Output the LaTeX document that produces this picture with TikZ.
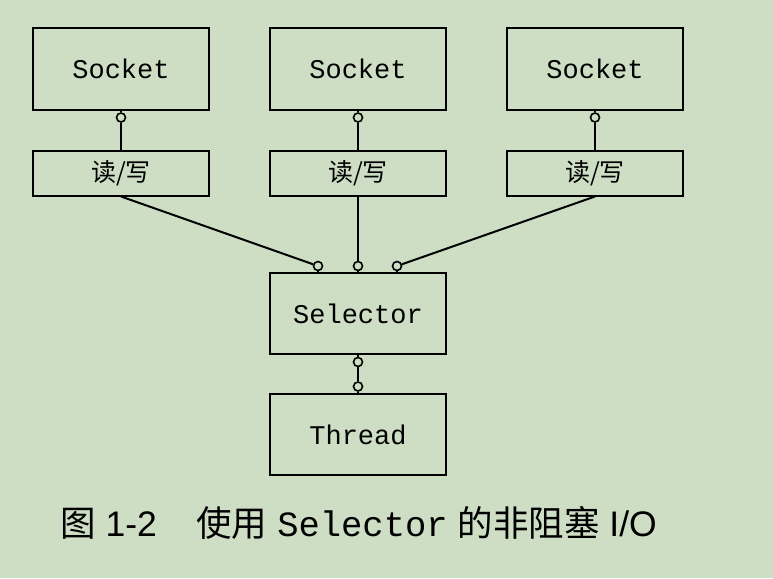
\documentclass[tikz,border=0pt]{standalone}
\usepackage{fontspec}
\setmainfont{Liberation Sans}
\setmonofont{Liberation Mono}
\newfontfamily\cjk{Noto Sans CJK SC}
\usetikzlibrary{positioning}
\definecolor{bggreen}{RGB}{205,222,196}

\begin{document}
\begin{tikzpicture}[x=1pt,y=-1pt,
    box/.style={draw,line width=2pt,minimum width=176pt,minimum height=81pt,inner sep=0pt,
                font=\fontsize{27}{27}\selectfont\ttfamily},
    rwbox/.style={draw,line width=2pt,minimum width=176pt,minimum height=45pt,inner sep=0pt,
                font=\fontsize{25}{25}\selectfont\cjk},
    pin/.style={circle,draw,fill=bggreen,line width=1.6pt,inner sep=0pt,minimum size=9pt},
    wire/.style={line width=2pt}]
  \fill[bggreen] (0,0) rectangle (773,578);
  % the three sockets and their read/write parts
  \foreach \i/\x in {1/121,2/358,3/595} {
    \node[box] (sock\i) at (\x,69) {Socket};
    \node[rwbox] (rw\i) at (\x,173) {读/写};
    \node[pin] (top\i) at (\x,117.5) {};
    \draw[wire] (sock\i) -- (top\i);
    \draw[wire] (top\i) -- (rw\i);
  }
  \node[box] (sel) at (358,313.5) {Selector};
  \node[box] (thr) at (358,434.5) {Thread};
  % pins on the selector
  \node[pin] (in1) at (318,266) {};
  \node[pin] (in2) at (358,266) {};
  \node[pin] (in3) at (397,266) {};
  \foreach \i in {1,2,3} {
    \draw[wire] (rw\i.south) -- (in\i);
    \draw[wire] (in\i) -- (in\i |- sel.north);
  }
  \node[pin] (out) at (358,362) {};
  \node[pin] (tin) at (358,386.5) {};
  \draw[wire] (sel) -- (out);
  \draw[wire] (out) -- (tin);
  \draw[wire] (tin) -- (thr);
  % caption
  \node (cap) at (358.5,523) {\fontsize{35.5}{35.5}\selectfont{\cjk 图}~1-2\quad\hspace{4pt}{\cjk 使用}
    {\ttfamily Selector} {\cjk 的非阻塞}~I/O};
\end{tikzpicture}
\end{document}
